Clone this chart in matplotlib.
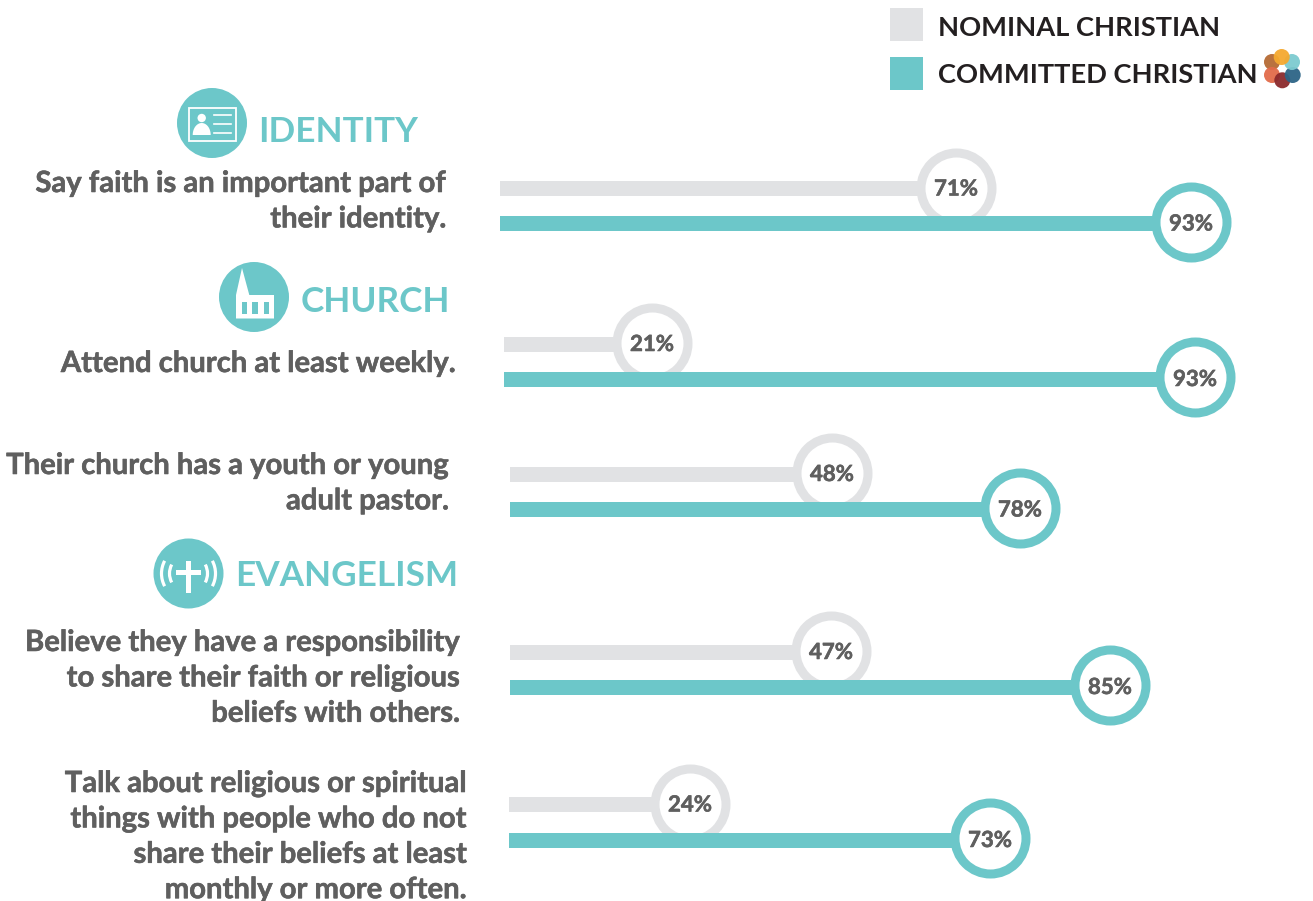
import numpy as np
import matplotlib
matplotlib.use("Agg")
import matplotlib.pyplot as plt
import matplotlib.patheffects as pe
from matplotlib.patches import Arc, Circle, Polygon, Rectangle

plt.rcParams["font.family"] = ["Lato", "DejaVu Sans"]

WIDTH, HEIGHT = 1313, 901
TEAL = "#6CC7C9"
GREY = "#E1E2E4"
LABEL = "#5F5F5F"
DARK = "#231F20"

series_names = ["NOMINAL CHRISTIAN", "COMMITTED CHRISTIAN"]
nominal = [71, 21, 48, 47, 24]
committed = [93, 93, 78, 85, 73]
labels = [
    ["Say faith is an important part of", "their identity."],
    ["Attend church at least weekly."],
    ["Their church has a youth or young", "adult pastor."],
    ["Believe they have a responsibility", "to share their faith or religious", "beliefs with others."],
    ["Talk about religious or spiritual", "things with people who do not", "share their beliefs at least", "monthly or more often."],
]
sections = ["IDENTITY", "CHURCH", "EVANGELISM"]

# bar lengths in this layout are not strictly linear in the percentage
scale_pct = [0, 21, 24, 47, 48, 71, 73, 78, 85, 93]
scale_px = [0, 148, 181, 321, 322, 456, 481, 510, 600, 691]

# layout per row: bar start, grey bar y, teal bar y, label right edge, first baseline
bar_start = [500, 504, 510, 510, 509]
nominal_y = [188.5, 344, 474, 652, 804.5]
committed_y = [223.5, 379, 509.5, 687, 840]
label_right = [446, 456, 449, 460, 467]
label_base = [192, 372, 474, 651, 792]
LINE_STEP = 35.4

HEAVY = [pe.withStroke(linewidth=0.4, foreground=LABEL)]


def bar_len(pct):
    return np.interp(pct, scale_pct, scale_px)


def draw_row(ax, start, y, pct, color, zorder, ring_dy):
    length = bar_len(pct)
    ax.barh(y, length, height=15, left=start, color=color, zorder=zorder)
    # diameter and line width are in px, scatter wants points
    ax.scatter([start + length], [y + ring_dy], s=(71 * 0.72) ** 2, facecolor="white",
               edgecolor=color, linewidth=9 * 0.72, zorder=zorder + 0.5)
    ax.text(start + length, y + 0.5, f"{pct}%", ha="center", va="center", fontsize=16,
            fontweight="bold", color=LABEL, zorder=zorder + 1, path_effects=HEAVY)


def id_icon(ax, cx, cy):
    ax.add_patch(Circle((cx, cy), 35, color=TEAL, lw=0, zorder=3))
    ax.add_patch(Rectangle((cx - 23, cy - 15.3), 46.7, 33, fill=False, ec="white", lw=1.3, zorder=4))
    ax.add_patch(Circle((cx - 10.3, cy - 5), 4.2, color="white", lw=0, zorder=4))
    # shoulders as the top half of an ellipse
    t = np.linspace(0, np.pi, 30)
    bust = np.column_stack([cx - 10.3 + 9 * np.cos(t), cy + 12 - 12 * np.sin(t)])
    ax.add_patch(Polygon(bust, closed=True, color="white", lw=0, zorder=4))
    for dy in [-8, 0.7, 9.7]:
        ax.plot([cx + 2.3, cx + 19], [cy + dy, cy + dy], color="white", lw=1.2, zorder=4)


def church_icon(ax, cx, cy):
    ax.add_patch(Circle((cx, cy), 35, color=TEAL, lw=0, zorder=3))
    shape = [(cx - 18, cy + 21.5), (cx - 18, cy - 2), (cx - 12, cy - 29), (cx - 4.7, cy - 2),
             (cx + 20, cy - 2), (cx + 20, cy + 21.5)]
    ax.add_patch(Polygon(shape, closed=True, color="white", lw=0, zorder=4))
    for dx in [-9.6, 1, 12.3]:
        ax.add_patch(Rectangle((cx + dx - 2.6, cy + 5), 5.2, 12, color=TEAL, lw=0, zorder=5))


def cross_icon(ax, cx, cy):
    ax.add_patch(Circle((cx, cy), 35, color=TEAL, lw=0, zorder=3))
    ax.add_patch(Rectangle((cx - 2.5, cy - 12.5), 5, 32, color="white", lw=0, zorder=4))
    ax.add_patch(Rectangle((cx - 12.5, cy - 4), 25, 5, color="white", lw=0, zorder=4))
    for radius in [19, 27]:
        ax.add_patch(Arc((cx, cy), 2 * radius, 2 * radius, theta1=-28, theta2=28,
                         color="white", lw=2.3, zorder=4))
        ax.add_patch(Arc((cx, cy), 2 * radius, 2 * radius, theta1=152, theta2=208,
                         color="white", lw=2.3, zorder=4))


def main():
    fig = plt.figure(figsize=(WIDTH / 100, HEIGHT / 100), dpi=100)
    ax = fig.add_axes([0, 0, 1, 1])
    ax.set_xlim(0, WIDTH)
    ax.set_ylim(HEIGHT, 0)
    ax.axis("off")

    for i in range(len(nominal)):
        # teal bar sits on top of the grey ring
        draw_row(ax, bar_start[i], nominal_y[i], nominal[i], GREY, 1, -0.7)
        draw_row(ax, bar_start[i], committed_y[i], committed[i], TEAL, 2, -1.7)
        for j, line in enumerate(labels[i]):
            ax.text(label_right[i], label_base[i] + j * LINE_STEP, line, ha="right", va="baseline",
                    fontsize=21.05, fontweight="bold", color=LABEL, path_effects=HEAVY)

    id_icon(ax, 212, 123)
    church_icon(ax, 254, 297)
    cross_icon(ax, 188.5, 573.5)
    ax.text(258.5, 141.5, sections[0], fontsize=25.3, fontweight="bold", color=TEAL, va="baseline")
    ax.text(301, 311.5, sections[1], fontsize=25.3, fontweight="bold", color=TEAL, va="baseline")
    ax.text(235, 586.5, sections[2], fontsize=25.3, fontweight="bold", color=TEAL, va="baseline")

    # legend
    ax.add_patch(Rectangle((890, 8), 33, 33, color=GREY, lw=0))
    ax.add_patch(Rectangle((890, 57), 33, 33, color=TEAL, lw=0))
    ax.text(937.5, 35.5, series_names[0], fontsize=19.6, fontweight="bold", color=DARK, va="baseline")
    ax.text(937.5, 83, series_names[1], fontsize=19.6, fontweight="bold", color=DARK, va="baseline")

    # small logo next to the legend
    logo = [((1272, 62), "#B56A34"), ((1272, 75), "#E26B4A"), ((1282.3, 80.3), "#8B2A2C"),
            ((1292.7, 75), "#2C6486"), ((1292, 62), "#7CCBD0"), ((1281.7, 57), "#F5A930")]
    for center, color in logo:
        ax.add_patch(Circle(center, 8, color=color, alpha=0.95, lw=0, zorder=5))

    fig.savefig("out.png", dpi=100)


if __name__ == "__main__":
    main()
